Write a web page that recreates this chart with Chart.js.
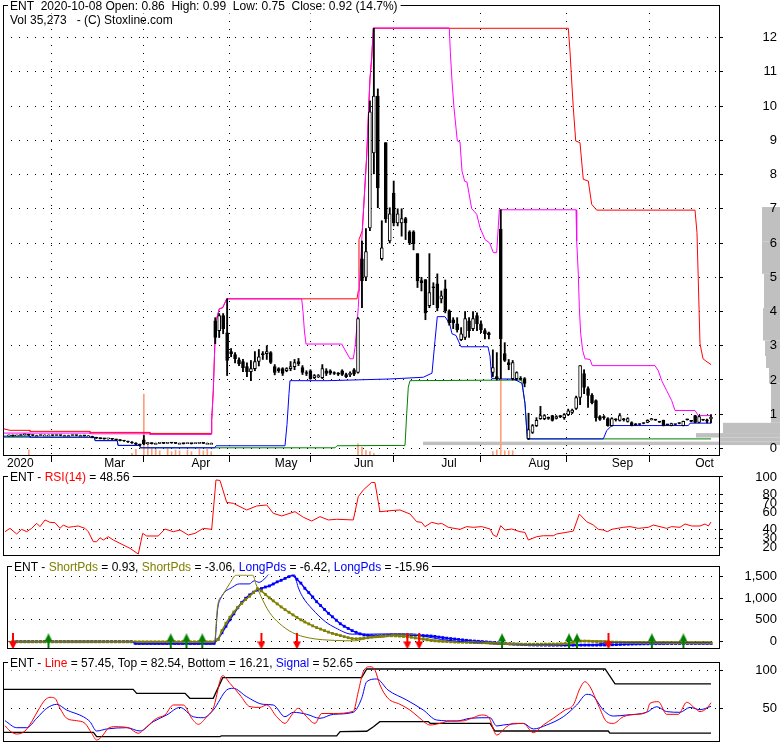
<!DOCTYPE html>
<html>
<head>
<meta charset="utf-8">
<script src="https://cdn.jsdelivr.net/npm/chart.js@4.4.1/dist/chart.umd.min.js"></script>
<style>
html, body { margin: 0; padding: 0; background: #fff; }
#wrap { position: relative; width: 780px; height: 745px; overflow: hidden; background: #fff; }
#wrap canvas { position: absolute; left: 0; }
</style>
</head>
<body>
<div id="wrap">
  <canvas id="priceChart" width="780" height="470" style="top:0px"></canvas>
  <canvas id="rsiChart" width="780" height="86" style="top:470px"></canvas>
  <canvas id="pdsChart" width="780" height="99" style="top:556px"></canvas>
  <canvas id="lineChart" width="780" height="90" style="top:655px"></canvas>
</div>
<script>
// ---- DATA (day index 0 = late Jan 2020, 177 = 2020-10-08) ----
const monthTicks  = [-1.51, 23, 45, 66, 86, 108, 130, 151, 172];
const monthLabels = ['2020', 'Mar', 'Apr', 'May', 'Jun', 'Jul', 'Aug', 'Sep', 'Oct'];

const opens = [
  0.37,0.38,0.37,0.38,0.40,0.41,0.39,0.38,0.38,0.39,
  0.39,0.39,0.38,0.39,0.38,0.38,0.38,0.39,0.38,0.38,
  0.37,0.35,0.32,0.30,0.29,0.28,0.29,0.27,0.25,0.23,
  0.22,0.19,0.16,0.12,0.25,0.14,0.17,0.15,0.15,0.16,
  0.15,0.17,0.16,0.15,0.15,0.14,0.15,0.14,0.15,0.16,
  0.15,0.15,3.73,3.44,3.88,3.38,2.83,2.74,2.59,2.54,
  2.39,2.24,2.33,2.54,2.77,2.77,2.80,2.39,2.33,2.33,
  2.27,2.33,2.39,2.54,2.36,2.22,2.27,2.07,2.10,2.07,
  2.27,2.27,2.20,2.20,2.27,2.16,2.15,2.30,2.22,5.54,
  5.00,6.44,8.63,10.29,5.54,8.93,6.06,7.46,6.59,6.59,
  6.71,6.33,6.33,5.69,4.90,4.93,4.17,4.72,4.81,4.37,
  4.66,4.02,3.76,3.64,3.18,3.24,3.73,3.50,3.88,3.64,
  3.44,3.38,2.22,2.10,6.41,2.77,2.51,2.04,2.04,2.05,
  2.04,0.29,0.47,0.67,0.87,0.87,0.90,0.96,0.88,0.96,
  0.90,0.99,1.05,1.17,1.49,2.19,1.75,1.55,1.40,0.93,
  0.93,0.87,0.67,0.85,0.82,0.85,0.79,0.76,0.72,0.71,
  0.74,0.76,0.84,0.84,0.78,0.82,0.70,0.67,0.71,0.74,
  0.67,0.85,0.80,0.96,0.76,0.84,0.84,0.86];
const highs = [
  0.39,0.39,0.39,0.41,0.42,0.41,0.40,0.39,0.40,0.40,
  0.40,0.39,0.40,0.39,0.39,0.39,0.40,0.39,0.39,0.38,
  0.38,0.36,0.33,0.31,0.30,0.30,0.29,0.27,0.26,0.24,
  0.22,0.20,0.17,0.13,0.38,0.18,0.17,0.16,0.17,0.16,
  0.18,0.17,0.16,0.16,0.15,0.16,0.15,0.16,0.17,0.16,
  0.16,0.16,3.82,3.94,3.94,4.37,2.92,2.80,2.65,2.60,
  2.50,2.57,2.83,2.89,2.83,3.00,2.83,2.45,2.36,2.36,
  2.36,2.54,2.60,2.63,2.42,2.27,2.30,2.16,2.16,2.45,
  2.33,2.30,2.24,2.22,2.30,2.20,2.24,2.33,3.82,6.06,
  6.42,10.15,12.27,10.50,6.65,8.93,7.03,7.81,7.00,7.00,
  6.75,6.36,6.36,5.69,5.00,4.93,5.69,4.84,5.10,4.60,
  4.92,4.05,3.82,3.82,3.53,4.00,3.82,4.00,3.96,3.73,
  3.50,3.40,2.88,2.80,6.97,3.09,2.60,2.57,2.24,2.10,
  2.07,1.03,0.70,0.90,1.23,0.99,0.92,0.97,0.96,0.97,
  1.02,1.15,1.15,1.53,2.42,2.30,1.80,1.60,1.42,0.96,
  0.96,0.90,0.90,0.87,1.02,0.88,0.90,0.78,0.73,0.72,
  0.75,0.84,0.88,0.85,0.79,0.83,0.71,0.74,0.71,0.75,
  0.80,0.86,0.81,0.97,0.96,0.85,0.86,0.99];
const lows = [
  0.36,0.36,0.37,0.38,0.39,0.38,0.37,0.37,0.38,0.38,
  0.38,0.37,0.38,0.37,0.37,0.37,0.38,0.37,0.37,0.36,
  0.36,0.31,0.29,0.28,0.27,0.27,0.26,0.24,0.22,0.21,
  0.18,0.15,0.11,0.08,0.11,0.12,0.13,0.13,0.14,0.14,
  0.15,0.15,0.14,0.14,0.13,0.14,0.13,0.14,0.15,0.14,
  0.14,0.14,3.06,3.24,3.35,2.13,2.68,2.50,2.42,2.24,
  2.10,1.98,2.27,2.41,2.60,2.60,2.48,2.15,2.22,2.13,
  2.24,2.27,2.30,2.42,2.16,2.13,2.02,2.04,2.07,2.04,
  2.13,2.16,2.16,2.13,2.13,2.07,2.10,2.13,2.20,4.11,
  4.90,6.36,8.02,7.03,5.50,6.60,6.00,6.50,6.50,6.20,
  6.10,5.95,5.80,4.70,4.60,3.76,4.11,4.20,4.02,4.25,
  3.96,3.60,3.50,3.40,3.15,3.18,3.24,3.44,3.44,3.38,
  3.20,3.20,2.10,2.00,2.04,2.54,2.30,2.00,2.00,2.00,
  1.80,0.26,0.44,0.64,0.85,0.84,0.85,0.80,0.86,0.90,
  0.85,0.96,1.02,1.14,1.28,1.60,1.20,1.30,0.80,0.82,
  0.85,0.65,0.65,0.80,0.80,0.80,0.77,0.66,0.68,0.69,
  0.72,0.75,0.83,0.82,0.76,0.66,0.68,0.66,0.69,0.72,
  0.66,0.83,0.78,0.75,0.75,0.82,0.75,0.75];
const closes = [
  0.38,0.37,0.38,0.40,0.41,0.39,0.38,0.38,0.39,0.39,
  0.39,0.38,0.39,0.38,0.38,0.38,0.39,0.38,0.38,0.37,
  0.37,0.32,0.30,0.29,0.28,0.29,0.27,0.25,0.23,0.22,
  0.19,0.16,0.12,0.10,0.13,0.17,0.14,0.15,0.16,0.15,
  0.17,0.16,0.15,0.15,0.14,0.15,0.14,0.15,0.16,0.15,
  0.15,0.15,3.24,3.88,3.50,2.57,2.77,2.62,2.48,2.36,
  2.24,2.33,2.54,2.68,2.74,2.83,2.51,2.22,2.27,2.19,
  2.33,2.39,2.51,2.48,2.22,2.19,2.04,2.13,2.13,2.33,
  2.19,2.20,2.19,2.17,2.16,2.10,2.20,2.17,3.79,4.90,
  5.75,9.83,10.29,7.61,5.86,6.70,6.85,6.59,6.85,6.71,
  6.59,6.00,5.98,4.90,4.84,3.96,4.55,4.69,4.11,4.46,
  4.02,3.67,3.67,3.47,3.35,3.79,3.44,3.79,3.64,3.47,
  3.35,3.32,2.36,2.04,3.20,2.57,2.45,2.51,2.22,2.02,
  1.90,0.55,0.67,0.82,0.96,0.96,0.88,0.82,0.93,0.93,
  0.99,1.10,1.12,1.49,2.42,1.78,1.55,1.34,0.90,0.85,
  0.90,0.67,0.87,0.84,0.96,0.84,0.87,0.67,0.69,0.70,
  0.73,0.82,0.87,0.83,0.77,0.67,0.69,0.73,0.70,0.73,
  0.79,0.84,0.79,0.76,0.93,0.83,0.80,0.92];

// daily volume (only the visible bars)
const volDay = [5,31,32,34,35,36,37,38,40,41,42,43,45,46,48,49,50,51,88,89,90,91,92,122,123,124,125,126,127];
const volAmt = [4.3,1.5,5,53,8.7,6.7,5,3.7,6.7,2.9,4.3,3.7,4.3,2.9,5,3.7,5,2.9,9.6,6.7,3.8,2.9,1.5,2.9,4.3,100,3.7,3.7,3.7];

// volume at price
const vpLow  = [0.10,0.20,0.32,0.45,0.75,1.90,2.35,2.70,3.15,4.10,5.10,6.05];
const vpHigh = [0.20,0.32,0.45,0.75,1.90,2.35,2.70,3.15,4.10,5.10,6.05,7.05];
const vpVol  = [357,60,84,57,9,11,14,15,17,16,18,18];

// price-panel channel lines (day index, price)
const redX = [-1.51,0.25,5.3,5.3,20.42,20.42,35.55,35.55,51.0,51.11,51.51,51.94,52.37,53.03,53.88,54.89,87.75,88.07,88.25,89.08,
  90.19,90.77,91.02,91.45,91.86,141.03,141.45,141.88,142.28,142.89,143.97,144.8,146.07,146.92,148.18,172.97,173.47,174.23,174.99,175.75,177.01];
const redY = [0.58,0.53,0.53,0.50,0.50,0.47,0.47,0.44,0.44,0.82,1.69,3.15,3.79,4.08,4.11,4.37,4.37,4.6,6.1,6.36,
  8.54,10.15,10.79,11.41,12.27,12.27,11.6,10.73,9.95,8.98,8.93,7.86,7.81,7.13,6.96,6.96,6.3,3.06,2.62,2.55,2.45];
const magentaX = [-1.51,20.42,20.42,35.55,35.55,51.0,51.11,51.51,51.94,52.37,53.03,53.88,54.89,73.8,74.13,74.51,74.89,83.89,85.98,86.81,
  87.24,87.67,88.07,89.08,90.19,90.77,91.02,91.45,91.86,111.02,111.27,111.7,112.2,113.04,113.72,114.22,114.9,115.48,116.67,117.25,
  117.93,118.76,120.02,121.21,122.11,122.97,123.63,142.97,143.14,143.55,143.8,144.15,144.65,145.23,146.5,147.08,162.88,163.72,164.57,165.83,
  167.09,167.93,172.97,173.8,177.01];
const magentaY = [0.45,0.45,0.43,0.43,0.41,0.41,0.82,1.69,3.15,3.79,4.08,4.11,4.37,4.37,4.0,3.4,3.05,3.05,2.62,2.62,
  2.95,3.5,4.12,6.36,8.54,10.15,10.79,11.41,12.28,12.28,11.6,10.73,9.95,8.98,8.95,8.1,7.8,7.78,7.0,6.93,
  6.84,6.45,6.1,6.0,5.72,5.72,6.97,6.97,6.06,5.09,4.12,3.35,2.86,2.62,2.6,2.42,2.42,2.27,1.98,1.69,
  1.4,1.11,1.11,0.96,0.96];
const blueX = [-1.51,5.3,5.3,21.5,21.7,27.3,27.5,33.0,33.1,51.9,52.2,69.59,70.1,70.6,70.85,80.43,96.07,104.46,106.66,107.41,
  107.99,109.93,111.12,111.7,112.71,113.97,120.78,121.28,121.71,124.63,127.08,128.09,129.35,130.11,130.69,149.85,150.7,151.97,171.28,171.71,177.01];
const blueY = [0.36,0.36,0.33,0.33,0.23,0.23,0.09,0.09,0.02,0.02,0.08,0.08,0.7,1.6,1.98,1.98,2.03,2.08,2.2,3.15,
  3.85,3.85,3.64,3.35,3.3,2.97,2.97,2.7,2.05,2.03,2.03,1.98,1.9,1.31,0.28,0.28,0.52,0.67,0.67,0.74,0.74];
const greenX = [-1.51,21.5,21.7,27.3,27.5,33.0,33.1,82.2,82.7,99.85,100.28,100.68,101.11,129.27,130.11,130.69,177.01];
const greenY = [0.33,0.33,0.23,0.23,0.09,0.09,0.02,0.02,0.08,0.09,1.01,1.79,1.98,2.0,1.31,0.28,0.28];

// RSI(14)
const rsiX = [-1.0,0.25,1.94,3.2,4.46,5.72,6.98,7.82,9.08,10.34, 11.6,12.86,13.69,14.95,16.21,17.47,19.16,20.0,21.26,22.11,
  22.95,23.78,25.04,26.3,27.99,30.51,32.6,33.71,34.72,37.64, 39.33,41.43,43.12,45.21,46.9,48.99,51.11,52.19,53.2,54.89,
  56.56,59.93,62.46,64.98,66.64,68.76,72.11,74.21,76.32,78.42, 80.51,82.63,86.81,88.07,89.33,91.45,92.28,93.54,96.07,98.59,
  101.11,102.8,104.06,104.89,106.58,108.24,109.1,110.77,113.72,115.41, 117.07,119.19,121.28,122.11,122.97,123.98,125.06,126.75,128.84,130.1,
  130.94,133.06,134.72,137.24,138.1,141.45,142.28,143.8,145.67,147.33, 148.59,149.85,150.86,151.97,154.89,156.58,158.67,161.19,162.45,164.14,
  165.83,167.09,169.19,170.45,172.14,174.23,175.5,176.33,177.01];
const rsiY = [37.5,41.3,34.9,40.2,37.5,41.3,47.1,43.3,50.9,48.2, 47.8,41.3,45.1,42.5,43.3,44.0,41.3,37.5,26.1,26.1,
  30.6,28.0,31.8,28.0,24.2,18.5,12.0,35.6,32.6,32.6, 40.6,37.5,39.4,33.7,35.6,41.3,40.2,96.6,96.0,71.0,
  69.9,62.3,66.9,68.0,58.5,55.5,60.4,54.0,49.7,54.7, 50.9,51.7,50.9,77.5,85.1,93.9,93.5,60.3,61.5,62.3,
  57.7,48.9,48.2,43.2,48.2,46.3,47.0,42.5,40.2,43.3, 42.5,43.3,40.6,33.7,31.8,44.4,39.4,40.6,37.5,36.7,
  28.0,31.8,32.9,32.9,34.9,37.5,38.2,57.7,48.9,45.1, 40.2,39.4,37.5,40.2,42.5,43.3,41.3,42.5,45.1,43.3,
  41.3,43.3,42.5,46.3,44.0,44.0,46.3,44.0,48.56];

// ShortPds / LongPds
const shortFastX = [-1.51,51.1,51.9,53.2,54.9,56.6,60.8,61.6,62.9,65.0,67.5,70.9,75.1,81.8,86.7,90.2,95.6,96.1,101.9,104.4,108.7,117.0,133.9,142.2,144.7,150.8,152.0,177.0];
const shortFastY = [0,0,823,1076,1332,1535,1535,1332,1041,677,421,203,80,22,13,80,124,167,167,80,13,-37,-87,-50,14,14,-10,-10];
const longFastX = [-1.51,30.9,31.0,51.1,51.9,52.7,55.7,57.4,59.9,61.2,62.4,64.1,65.0,70.0,71.3,72.3,73.4,75.9,79.2,81.8,
  86.0,90.2,95.6,101.1,104.5,108.7,117.0,129.6,146.5,150.0,152.0,177.0];
const longFastY = [-5,-5,-65,-65,749,1004,1259,1332,1332,1404,1368,1477,1565,1590,1560,1259,1041,749,458,313,
  168,168,175,168,116,44,-30,-80,-80,-40,-20,-20];
const shortSlow = [
  -10,-10,-10,-10,-10,-10,-10,-10,-10,-10,
  -10,-10,-10,-10,-10,-10,-10,-10,-10,-10,
  -10,-10,-10,-10,-10,-10,-10,-10,-10,-10,
  -10,-10,-10,-10,-10,-10,-10,-10,-10,-10,
  -10,-10,-10,-10,-10,-10,-10,-10,-10,-10,
  -10,-10,40,250,420,560,680,790,880,970,
  1045,1130,1220,1170,1090,1010,940,870,800,735,
  675,615,555,500,450,405,360,320,285,250,
  215,185,160,135,110,85,65,60,65,75,
  85,100,110,120,128,131,131,128,122,115,
  108,95,80,65,50,35,22,12,5,0,
  -5,-10,-15,-18,-20,-22,-25,-27,-29,-31,
  -33,-36,-40,-44,-48,-52,-56,-60,-63,-65,
  -66,-66,-66,-65,-64,-63,-62,-60,-58,-55,
  -50,-40,-20,0,7,7,5,0,-5,-10,
  -15,-15,-16,-18,-20,-22,-24,-25,-27,-28,
  -29,-30,-31,-32,-33,-34,-35,-35,-36,-36,
  -37,-37,-37,-37,-37,-37,-37,-37];
const longSlow = [
  -5,-5,-5,-5,-5,-5,-5,-5,-5,-5,
  -5,-5,-5,-5,-5,-5,-5,-5,-5,-5,
  -5,-5,-5,-5,-5,-5,-5,-5,-5,-5,
  -5,-45,-45,-45,-45,-45,-45,-45,-45,-45,
  -45,-45,-45,-45,-45,-45,-45,-45,-45,-45,
  -45,-45,50,200,350,500,640,780,900,1000,
  1076,1140,1190,1225,1260,1285,1330,1380,1415,1460,
  1500,1535,1440,1350,1230,1130,1030,920,830,740,
  650,570,490,410,350,300,250,210,175,150,
  140,132,130,130,135,140,146,150,152,153,
  152,150,145,140,135,131,125,115,100,88,
  75,65,55,45,35,25,15,8,2,-5,
  -12,-20,-28,-35,-42,-50,-55,-60,-65,-70,
  -75,-80,-82,-84,-85,-86,-87,-87,-87,-87,
  -87,-87,-87,-87,-86,-85,-85,-85,-85,-84,
  -83,-80,-77,-74,-70,-67,-65,-62,-60,-58,
  -56,-55,-54,-53,-52,-52,-51,-51,-50,-50,
  -50,-50,-50,-50,-50,-50,-50,-50];
const sellDay = [0, 63, 72, 100, 103, 151];
const buyDay  = [9, 40, 44, 48, 124, 141, 143, 162, 170];

// Line / Top / Bottom / Signal
const osLineX = [-1.0,0.25,1.94,4.03,5.72,7.39,9.08,10.34,11.6,12.86, 14.55,17.07,19.16,20.85,22.11,23.37,25.04,26.73,30.08,32.6,
  34.72,37.24,39.33,41.43,43.95,46.07,47.73,49.85,51.51,53.88, 55.72,58.24,60.77,63.29,64.98,67.5,69.59,71.28,72.94,74.63,
  77.16,78.85,81.77,86.81,88.07,89.33,91.02,92.28,93.54,95.56, 98.59,101.11,103.63,106.15,108.67,111.2,114.15,116.67,119.19,120.85,
  122.97,125.49,127.16,129.68,132.2,134.72,137.24,140.19,142.28,143.97, 145.23,146.5,148.59,150.7,152.37,154.89,158.27,160.79,161.62,163.72,
  165.83,168.76,170.88,172.97,174.23,175.92,177.01];
const osLineY = [26.9,19.8,15.8,19.8,32.2,47.7,61.0,64.6,63.3,50.0, 36.7,33.5,30.0,16.8,7.8,12.2,23.4,25.5,24.2,16.8,
  25.5,36.7,41.1,54.4,54.4,36.7,28.7,38.8,50.0,93.4, 83.2,67.7,52.1,51.2,54.4,38.8,30.0,41.1,50.0,41.1,
  30.0,43.1,43.1,46.0,72.1,98.7,105.3,100.9,81.0,63.3, 55.3,47.7,36.7,27.8,29.9,33.1,33.1,36.7,41.1,38.8,
  14.5,25.5,29.9,29.9,17.6,27.8,36.7,47.7,54.4,76.6, 85.4,78.7,54.4,32.2,29.9,38.8,42.0,45.1,56.6,58.8,
  42.0,42.0,58.0,50.0,45.6,50.0,57.45];
const sigX = [-1.0,1.94,4.46,6.98,9.51,12.03,14.55,18.73,20.42,22.11, 24.63,29.68,33.03,36.38,39.76,43.12,46.47,48.99,51.51,54.89,
  56.56,59.93,64.12,66.64,69.59,71.68,75.06,78.42,81.77,86.81, 88.93,90.19,92.71,95.56,100.28,104.46,107.84,112.88,116.24,121.28,
  122.97,124.63,129.68,132.2,135.58,139.76,143.14,145.67,147.33,149.85, 152.37,155.75,160.79,163.31,165.83,169.19,171.71,174.23,177.01];
const sigY = [33.5,24.2,24.2,36.7,50.0,55.3,47.7,38.8,32.2,19.8, 22.5,24.2,19.8,32.2,41.1,51.2,38.8,37.5,47.7,74.3,
  76.6,65.4,55.3,54.4,38.8,44.7,42.0,36.7,42.0,44.7, 63.3,85.4,89.0,74.3,61.0,47.7,34.4,33.1,36.7,37.5,
  26.5,27.8,29.9,22.5,27.8,38.8,54.4,68.6,66.0,47.7, 39.7,41.1,44.7,52.1,45.6,44.7,51.2,48.2,52.65];
const topX = [-1.51,31.3,32.2,44.4,45.6,51.5,53.9,88.9,90.2,150.3,152.8,177.01];
const topY = [75.3,75.3,69.9,69.9,63.3,63.3,90.7,90.7,102.3,102.3,82.5,82.5];
const botX = [-1.51,21.3,22.1,53.2,53.5,82.6,83.5,90.2,91.9,93.5,105.7,106.2,121.3,122.5,151.1,151.5,177.01];
const botY = [18.1,18.1,12.2,12.2,13.2,13.2,18.9,19.5,25.5,32.2,32.3,30.0,30.0,19.8,19.8,17.0,17.0];

const priceTicks = [0,1,2,3,4,5,6,7,8,9,10,11,12];
const rsiTicks = [20,30,40,60,70,80,100];
const pdsTicks = [0,500,1000,1500];
const lineTicks = [50,100];

// ---- CHARTS ----
const FONT = '"Liberation Sans", Arial, Helvetica, sans-serif';
Chart.defaults.font.family = FONT;
Chart.defaults.color = '#000';

const X_MIN = -1.51, X_MAX = 179.02;
const days = opens.map((_, i) => i);
const xy = (xs, ys) => xs.map((x, k) => ({x: x, y: ys[k]}));

// frame round the plot + title text sitting on the top edge
const panelFrame = {
    id: 'panelFrame',
    afterDraw(chart, args, opts) {
        const ctx = chart.ctx, a = chart.chartArea;
        ctx.save();
        ctx.strokeStyle = '#000';
        ctx.lineWidth = 1;
        ctx.strokeRect(Math.round(a.left) + 0.5, Math.round(a.top) + 0.5, Math.round(a.right - a.left), Math.round(a.bottom - a.top));
        ctx.font = '12px ' + FONT;
        ctx.textBaseline = 'middle';
        (opts.rows || []).forEach((row, r) => {
            const y = a.top + 1.5 + r * 14;
            const w = row.reduce((s, seg) => s + ctx.measureText(seg[0]).width, 0);
            if (r === 0) { ctx.fillStyle = '#fff'; ctx.fillRect(a.left + 5, y - 7, w + 5, 14); }
            let x = a.left + 7;
            row.forEach(seg => {
                ctx.fillStyle = seg[1];
                ctx.fillText(seg[0], x, y);
                x += ctx.measureText(seg[0]).width;
            });
        });
        ctx.restore();
    }
};

// grey volume-by-price bars, drawn from the right edge
const volumeAtPrice = {
    id: 'volumeAtPrice',
    beforeDraw(chart) {
        const ctx = chart.ctx, ys = chart.scales.y;
        const maxV = Math.max(...vpVol);
        const longest = 357;
        ctx.save();
        ctx.fillStyle = '#c0c0c0';
        vpVol.forEach((v, k) => {
            const top = ys.getPixelForValue(vpHigh[k]);
            const bot = ys.getPixelForValue(vpLow[k]);
            const len = v / maxV * longest;
            ctx.fillRect(chart.width - len, top, len, bot - top);
        });
        ctx.restore();
    }
};

// right-hand value axis: labels right-aligned near the canvas edge
function rightAxis(min, max, tickVals, fmt) {
    return {
        position: 'right', min: min, max: max,
        afterBuildTicks: s => { s.ticks = tickVals.map(v => ({value: v})); },
        afterFit: s => { s.width = 61; s.paddingTop = 0; s.paddingBottom = 0; },
        ticks: {autoSkip: false, mirror: true, padding: 58, color: '#000', font: {size: 13}, callback: fmt || (v => v)},
        grid: {color: '#000', lineWidth: 1, tickLength: 4, tickColor: '#000'},
        border: {display: false, dash: [1, 7]}
    };
}

function baseOptions(pad, yAxis, rows) {
    return {
        responsive: false, animation: false, events: [],
        layout: {padding: pad},
        plugins: {legend: {display: false}, tooltip: {enabled: false}, panelFrame: {rows: rows}},
        scales: {
            x: {type: 'linear', display: false, min: X_MIN, max: X_MAX, offset: false},
            y: yAxis
        }
    };
}

function lineSet(data, color, width, order, extra) {
    return Object.assign({type: 'line', data: data, borderColor: color, backgroundColor: color,
        borderWidth: width, pointRadius: 0, fill: false, order: order}, extra || {});
}

// price panel
const priceOpts = baseOptions({left: 3, top: 5, right: 0, bottom: 0}, rightAxis(-0.19, 12.95, priceTicks),
    [[['ENT  2020-10-08 Open: 0.86  High: 0.99  Low: 0.75  Close: 0.92 (14.7%)', '#000']],
     [['Vol 35,273   - (C) Stoxline.com', '#000']]]);
priceOpts.scales.x = {
    type: 'linear', min: X_MIN, max: X_MAX, offset: false,
    afterBuildTicks: s => { s.ticks = monthTicks.map(v => ({value: v})); },
    afterFit: s => { s.height = 15; },
    ticks: {autoSkip: false, maxRotation: 0, align: 'start', labelOffset: 4, padding: -6, color: '#000', font: {size: 12},
        callback: (v, k) => monthLabels[k]},
    grid: {color: '#000', lineWidth: 1, tickLength: 7, tickColor: '#000'},
    border: {display: false, dash: [1, 7]}
};
priceOpts.scales.yv = {display: false, min: 0, max: 391};

new Chart(document.getElementById('priceChart'), {
    type: 'bar',
    data: {
        datasets: [
            {type: 'bar', label: 'Body', data: days.map(i => ({x: i, y: [opens[i], closes[i]]})),
             backgroundColor: c => closes[c.dataIndex] >= opens[c.dataIndex] ? '#fff' : '#000',
             borderColor: '#000', borderWidth: 1, borderSkipped: false, grouped: false,
             categoryPercentage: 1, barPercentage: 1, maxBarThickness: 3, minBarLength: 1, order: 1},
            {type: 'bar', label: 'Wick', data: days.map(i => ({x: i, y: [lows[i], highs[i]]})),
             backgroundColor: '#000', grouped: false, categoryPercentage: 1, barPercentage: 1, maxBarThickness: 1.2, order: 2},
            lineSet(xy(magentaX, magentaY), '#ff00ff', 1, 6),
            lineSet(xy(redX, redY), '#ff0000', 1, 7),
            lineSet(xy(blueX, blueY), '#0000ff', 1, 8),
            lineSet(xy(greenX, greenY), '#008000', 1, 9),
            {type: 'bar', label: 'Volume', yAxisID: 'yv', data: xy(volDay, volAmt),
             backgroundColor: '#ffa07a', grouped: false, categoryPercentage: 1, barPercentage: 1, maxBarThickness: 1, order: 20}
        ]
    },
    options: priceOpts,
    plugins: [volumeAtPrice, panelFrame]
});

// RSI panel
new Chart(document.getElementById('rsiChart'), {
    type: 'line',
    data: {datasets: [lineSet(xy(rsiX, rsiY), '#ff0000', 1, 1)]},
    options: baseOptions({left: 3, top: 6, right: 0, bottom: 1}, rightAxis(10.9, 101.1, rsiTicks),
        [[['ENT - ', '#000'], ['RSI(14)', '#ff0000'], [' = 48.56', '#000']]]),
    plugins: [panelFrame]
});

// signal arrows
function arrowImage(color, up) {
    const c = document.createElement('canvas');
    c.width = 8; c.height = 16;
    const g = c.getContext('2d');
    g.fillStyle = color;
    g.beginPath();
    if (up) {
        g.moveTo(4, 0); g.lineTo(8, 8); g.lineTo(0, 8); g.closePath(); g.fill();
        g.fillRect(3, 8, 2, 8);
    } else {
        g.fillRect(3, 0, 2, 8);
        g.moveTo(0, 8); g.lineTo(8, 8); g.lineTo(4, 16); g.closePath(); g.fill();
    }
    return c;
}

const olive = '#808000';
new Chart(document.getElementById('pdsChart'), {
    type: 'line',
    data: {
        datasets: [
            {type: 'line', data: sellDay.map(d => ({x: d, y: 0})), showLine: false, pointStyle: arrowImage('#ff0000', false),
             pointRadius: 6, clip: false, order: 0},
            {type: 'line', data: buyDay.map(d => ({x: d, y: 0})), showLine: false, pointStyle: arrowImage('#008000', true),
             pointRadius: 6, clip: false, order: 0},
            lineSet(xy(shortFastX, shortFastY), olive, 1, 1, {cubicInterpolationMode: 'monotone'}),
            lineSet(xy(longFastX, longFastY), '#0000ff', 1, 1, {cubicInterpolationMode: 'monotone'}),
            lineSet(days.map(i => ({x: i, y: shortSlow[i]})), olive, 1.5, 2,
                {pointRadius: 2, pointStyle: 'rect', pointBorderWidth: 0, pointBackgroundColor: olive}),
            lineSet(days.map(i => ({x: i, y: longSlow[i]})), '#0000ff', 1.5, 3,
                {pointRadius: 2, pointStyle: 'rect', pointBorderWidth: 0, pointBackgroundColor: '#0000ff'})
        ]
    },
    options: baseOptions({left: 3, top: 10, right: 0, bottom: 2},
        rightAxis(-153, 1747, pdsTicks, v => Number(v).toLocaleString('en-US')),
        [[['ENT - ', '#000'], ['ShortPds', olive], [' = 0.93, ', '#000'], ['ShortPds', olive], [' = -3.06, ', '#000'],
          ['LongPds', '#0000ff'], [' = -6.42, ', '#000'], ['LongPds', '#0000ff'], [' = -15.96', '#000']]]),
    plugins: [panelFrame]
});

// Line / Top / Bottom / Signal panel
new Chart(document.getElementById('lineChart'), {
    type: 'line',
    data: {
        datasets: [
            lineSet(xy(osLineX, osLineY), '#ff0000', 1, 1, {cubicInterpolationMode: 'monotone'}),
            lineSet(xy(sigX, sigY), '#0000ff', 1, 2, {cubicInterpolationMode: 'monotone'}),
            lineSet(xy(topX, topY), '#000', 1.3, 3),
            lineSet(xy(botX, botY), '#000', 1.3, 3)
        ]
    },
    options: baseOptions({left: 3, top: 7, right: 0, bottom: 4}, rightAxis(6.5, 111.6, lineTicks),
        [[['ENT - ', '#000'], ['Line', '#ff0000'], [' = 57.45, Top = 82.54, Bottom = 16.21, ', '#000'],
          ['Signal', '#0000ff'], [' = 52.65', '#000']]]),
    plugins: [panelFrame]
});
</script>
</body>
</html>
